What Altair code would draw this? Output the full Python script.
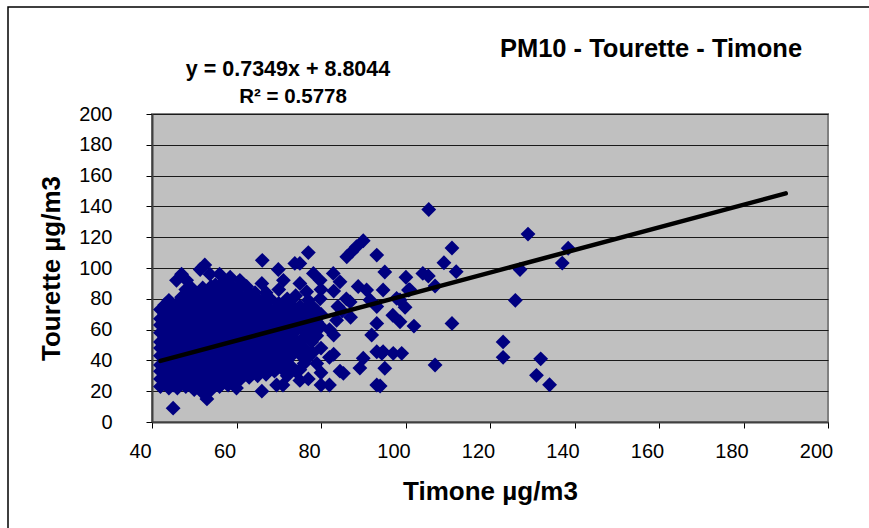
import altair as alt
import pandas as pd

# ---- data ----
core_points = [
    (42,23),(42,28),(42,33),(42,37),(42,43),(42,48),(42,52),(42,58),(42,63),(42,67),(42,73),
    (43,25),(43,31),(43,35),(43,40),(43,46),(43,50),(43,55),(43,61),(43,65),(43,70),(43,76),
    (44,22),(44,27),(44,33),(44,38),(44,42),(44,47),(44,53),(44,57),(44,62),(44,68),(44,72),(44,79),
    (45,9),(45,24),(45,29),(45,35),(45,40),(45,45),(45,50),(45,54),(45,59),(45,64),(45,69),(45,74),
    (46,22),(46,27),(46,31),(46,37),(46,42),(46,48),(46,52),(46,57),(46,62),(46,67),(46,72),(46,77),(45.8,92),
    (47,25),(47,30),(47,34),(47,39),(47,44),(47,49),(47,55),(47,60),(47,65),(47,70),(47,75),(47,81),(47,96),
    (48,23),(48,28),(48,33),(48,38),(48,43),(48,47),(48,53),(48,57),(48,63),(48,68),(48,73),(48,79),(48,86),(48.2,92),
    (49,26),(49,31),(49,36),(49,41),(49,46),(49,51),(49,56),(49,61),(49,65),(49,70),(49,76),(49,82),(49,88),
    (50,21),(50,27),(50,33),(50,38),(50,44),(50,48),(50,54),(50,59),(50,64),(50,69),(50,74),(50,80),(50,85),
    (51,24),(51,29),(51,35),(51,40),(51,46),(51,51),(51,56),(51,62),(51,67),(51,72),(51,77),(51,83),(51.4,99),
    (52,19),(52,26),(52,31),(52,37),(52,43),(52,49),(52,53),(52,58),(52,63),(52,69),(52,75),(52,80),(52,87),(52.5,102),
    (53,15),(53,23),(53,28),(53,34),(53,40),(53,45),(53,51),(53,56),(53,61),(53,66),(53,72),(53,78),(53,84),(53.7,96),
    (54,21),(54,26),(54,32),(54,37),(54,42),(54,48),(54,54),(54,59),(54,64),(54,70),(54,74),(54,80),(54,88),
    (55,25),(55,30),(55,35),(55,40),(55,46),(55,51),(55,57),(55,62),(55,67),(55,72),(55,78),(55,83),(55,89),
    (56,23),(56,28),(56,33),(56,38),(56,44),(56,49),(56,54),(56,60),(56,65),(56,70),(56,76),(56,81),(56,86),(56,96),
    (57,26),(57,31),(57,36),(57,42),(57,47),(57,52),(57,57),(57,63),(57,68),(57,73),(57,79),(57,85),(57,91),
    (58,24),(58,29),(58,34),(58,40),(58,45),(58,50),(58,55),(58,61),(58,66),(58,71),(58,77),(58,83),(58.5,94),
    (59,27),(59,33),(59,38),(59,43),(59,48),(59,54),(59,59),(59,64),(59,69),(59,75),(59,81),(59,88),
    (60,22),(60,30),(60,36),(60,41),(60,46),(60,51),(60,57),(60,62),(60,67),(60,72),(60,78),(60,85),(60.8,92),
]

mid_points = [
    (61,28),(61,34),(61,39),(61,44),(61,49),(61,55),(61,60),(61,65),(61,71),(61,76),(61,82),(61,88),
    (62,31),(62,37),(62,42),(62,47),(62,53),(62,58),(62,63),(62,69),(62,74),(62,80),(62.4,88),
    (63,29),(63,35),(63,40),(63,45),(63,51),(63,56),(63,61),(63,67),(63,72),(63,78),(63,84),
    (64,33),(64,38),(64,43),(64,49),(64,54),(64,59),(64,65),(64,70),(64,76),(64.4,84),
    (65,30),(65,36),(65,41),(65,47),(65,52),(65,57),(65,63),(65,68),(65,74),(65,80),
    (66,20),(66,34),(66,39),(66,45),(66,50),(66,55),(66,61),(66,66),(66,72),(66,78),(66,90),(66.1,105),
    (67,31),(67,37),(67,43),(67,48),(67,53),(67,59),(67,64),(67,70),(67,76),(67,84),
    (68,35),(68,41),(68,46),(68,51),(68,57),(68,62),(68,68),(68,73),(68,80),
    (69.5,24),(69,33),(69,39),(69,44),(69,50),(69,56),(69,61),(69,66),(69,72),(69.9,99),
    (70,37),(70,42),(70,48),(70,54),(70,59),(70,64),(70,70),(70,77),(70,86),
    (71,24),(71,34),(71,45),(71,51),(71,57),(71,62),(71,68),(71,74),(71.1,92),
    (72,30),(72,40),(72,47),(72,53),(72,60),(72,66),(72,71),(72,80),
    (73,36),(73,43),(73,49),(73,56),(73,63),(73,69),(73,76),(73.8,103),
    (74,33),(74,46),(74,52),(74,59),(74,65),(74,72),(74,82),
    (75,27),(75,34),(75,44),(75,50),(75,62),(75,68),(75,75),(75,90),(75,103),
    (76,38),(76,48),(76,55),(76,66),(76,73),(76.6,84.6),(76.6,57.6),(77,110),
    (77,28),(77,42),(77.8,52),(77,64),(77,70),(77,79),
    (78,45),(78,60),(78,68),(78,75),(78.2,96.5),
    (79,38),(79,56),(79,65),(79,72),(79.8,80),(79.8,92),
    (80,24),(80,32),(80,48),(80,62),(80,70),(80,86),
]

spread_points = [
    (82,24),(82,42),(82,60),(82.9,96.5),(83,44),(83,56.5),(83,85),(83.7,66),(84,75),(84.5,91),
    (84.5,33),(85.3,31.6),(85,72),(86,80),(86.1,107.3),(86.9,78),(87.3,110.6),(87,68),(88.4,113.8),
    (88.8,88),(89.2,35),(90,117.7),(90,41.4),(90.8,85.7),(91.6,79.2),(92,56.5),(93.2,108.4),
    (93.2,75),(93.2,64),(93.2,45.6),(93.2,24),(94,23.4),(94.4,44.6),(94.7,85.7),(94.7,45.6),
    (95.1,97.4),(95.1,34.9),(97,69.3),(97.1,44.6),(97.9,80.3),(98.7,79.2),(98.7,65.1),
    (99.1,44.6),(99.9,74.5),(100.1,94),(100.7,85.7),(101,86),(102,62.3),(104.1,96.5),(105.4,94.8),
    (105.5,138),(107,88.3),(107,37),(109.1,103.4),(111,113),(111,64),(112,97.6),(123.1,52),
    (123.1,42),(126,79),(127.1,99),(129,122),(131,30.3),(132,41),(134.1,24.2),(137.1,103.2),(138.5,112.8),
]

slope = 0.7349
intercept = 8.8044
r_squared = 0.5778
trend_timone = [42, 190]

chart_title = "PM10 - Tourette - Timone"
x_title = "Timone µg/m3"
y_title = "Tourette µg/m3"
x_ticks = [40, 60, 80, 100, 120, 140, 160, 180, 200]
y_ticks = [0, 20, 40, 60, 80, 100, 120, 140, 160, 180, 200]

# ---- tables ----
df = pd.DataFrame(core_points + mid_points + spread_points, columns=["Timone", "Tourette"])
trend_df = pd.DataFrame({
    "Timone": trend_timone,
    "Tourette": [slope * v + intercept for v in trend_timone],
})

W, H = 676, 308
FONT = "Liberation Sans"

x_scale = alt.Scale(domain=[40, 200], nice=False, zero=False)
y_scale = alt.Scale(domain=[0, 200], nice=False)

x_axis = alt.Axis(
    values=x_ticks, tickCount=9, grid=False, tickSize=6, labelPadding=13, labelOffset=-12,
    labelFontSize=20, labelFlush=False, labelOverlap=False,
    title=x_title, titleFontSize=26, titleFontWeight="bold",
    titleX=W / 2, titleY=69, titleAlign="center", titleBaseline="middle",
)
y_axis = alt.Axis(
    values=y_ticks, tickCount=11, grid=True, tickSize=6, labelPadding=34,
    labelFontSize=20, labelFlush=False, labelOverlap=False,
    title=y_title, titleFontSize=26, titleFontWeight="bold",
    titleX=-101, titleY=H / 2, titleAngle=270, titleAlign="center", titleBaseline="middle",
)

points = alt.Chart(df).mark_point(
    shape="diamond", filled=True, size=220, color="#000080", opacity=1
).encode(
    x=alt.X("Timone:Q", scale=x_scale, axis=x_axis),
    y=alt.Y("Tourette:Q", scale=y_scale, axis=y_axis),
)

trend = alt.Chart(trend_df).mark_line(
    color="black", strokeWidth=4.5, strokeCap="round"
).encode(
    x=alt.X("Timone:Q", scale=x_scale, axis=x_axis),
    y=alt.Y("Tourette:Q", scale=y_scale, axis=y_axis),
)

def label(text, px, py, size):
    return alt.Chart(pd.DataFrame({"t": [text]})).mark_text(
        font=FONT, fontSize=size, fontWeight="bold", color="black",
        align="center", baseline="alphabetic",
    ).encode(x=alt.value(px), y=alt.value(py), text="t:N")

title_txt = label(chart_title, 499, -57, 25.5)
eq_txt = label(f"y = {slope}x + {intercept}", 136, -38, 21.5)
r2_txt = label(f"R² = {r_squared}", 141, -11, 20.5)

frame = alt.Chart(pd.DataFrame({"a": [0]})).mark_rect(
    fillOpacity=0, stroke="black", strokeWidth=1.5
).encode(
    x=alt.value(-144), x2=alt.value(W + 100), y=alt.value(-107), y2=alt.value(H + 150)
)

chart = alt.layer(frame, points, trend, title_txt, eq_txt, r2_txt).properties(
    width=W, height=H,
    autosize=alt.AutoSizeParams(type="none"),
    padding={"left": 152, "top": 114, "right": 41, "bottom": 106},
    background="white",
).configure_view(
    fill="#c0c0c0", stroke="#808080", strokeWidth=2
).configure_axis(
    labelFont=FONT, titleFont=FONT, labelColor="black", titleColor="black",
    domainColor="#404040", domainWidth=2, tickColor="black", tickWidth=1,
    gridColor="#1a1a1a", gridWidth=1,
)

chart.save("out.html", embed_options={"renderer": "svg", "actions": False})
